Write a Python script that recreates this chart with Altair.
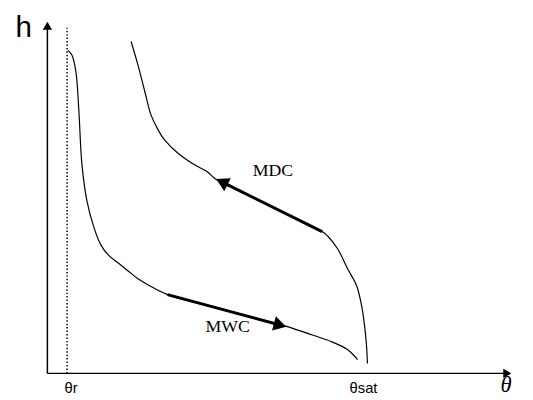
import math
import altair as alt
import pandas as pd

# ---- data (theta: volumetric water content, h: suction head) ----
mwc_theta = [0.021, 0.025, 0.029, 0.032, 0.035, 0.040, 0.047, 0.054, 0.062, 0.072,
             0.082, 0.092, 0.102, 0.122, 0.182, 0.242, 0.269, 0.289, 0.305, 0.315]
mwc_h = [3.28, 3.23, 3.06, 2.66, 2.13, 1.76, 1.49, 1.31, 1.20, 1.12,
         1.04, 0.96, 0.90, 0.80, 0.64, 0.48, 0.39, 0.32, 0.24, 0.14]

mdc_theta = [0.085, 0.092, 0.099, 0.105, 0.112, 0.119, 0.132, 0.149, 0.162, 0.170,
             0.222, 0.279, 0.285, 0.295, 0.305, 0.314, 0.319, 0.322, 0.324, 0.325]
mdc_h = [3.37, 3.13, 2.86, 2.63, 2.48, 2.37, 2.24, 2.12, 2.05, 1.98,
         1.72, 1.44, 1.39, 1.26, 1.06, 0.89, 0.69, 0.49, 0.29, 0.10]

# arrows: tail -> tip
arrow_names = ["MDC", "MWC"]
arrow_tail_theta = [0.279, 0.122]
arrow_tail_h = [1.44, 0.80]
arrow_tip_theta = [0.170, 0.244]
arrow_tip_h = [1.98, 0.47]

label_texts = ["MDC", "MWC"]
label_theta = [0.229, 0.183]
label_h = [2.05, 0.47]

theta_r = 0.020
theta_sat = 0.317
tick_texts = ["θr", "θsat"]

X_MAX, Y_MAX = 0.472, 3.58
W, H = 472, 358
PX_X, PX_Y = W / X_MAX, H / Y_MAX

xs = alt.Scale(domain=[0, X_MAX], nice=False, zero=False)
ys = alt.Scale(domain=[0, Y_MAX], nice=False, zero=False)


def X(f):
    return alt.X(f, type="quantitative", scale=xs, axis=None)


def Y(f):
    return alt.Y(f, type="quantitative", scale=ys, axis=None)


rows = []
for i, (t, h) in enumerate(zip(mwc_theta, mwc_h)):
    rows.append({"theta": t, "h": h, "curve": "MWC", "i": i})
for i, (t, h) in enumerate(zip(mdc_theta, mdc_h)):
    rows.append({"theta": t, "h": h, "curve": "MDC", "i": i})
curves_df = pd.DataFrame(rows)

curves = alt.Chart(curves_df).mark_line(color="black", strokeWidth=1.2,
                                        interpolate="catmull-rom").encode(
    x=X("theta"), y=Y("h"), detail="curve:N", order="i:Q")

# arrow shafts and heads
shaft_rows, head_rows = [], []
for n, t0, h0, t1, h1 in zip(arrow_names, arrow_tail_theta, arrow_tail_h,
                             arrow_tip_theta, arrow_tip_h):
    dx = (t1 - t0) * PX_X
    dy = -(h1 - h0) * PX_Y
    L = math.hypot(dx, dy)
    back = 8.0 / L
    back2 = 12.0 / L
    shaft_rows.append({"a": n, "theta": t0, "h": h0, "i": 0})
    shaft_rows.append({"a": n, "theta": t1 - (t1 - t0) * back2,
                       "h": h1 - (h1 - h0) * back2, "i": 1})
    ang = math.degrees(math.atan2(dx, -dy)) % 360
    head_rows.append({"theta": t1 - (t1 - t0) * back, "h": h1 - (h1 - h0) * back,
                      "ang": ang, "sz": 220})

# axis arrow heads
head_rows.append({"theta": 0.0, "h": Y_MAX - 0.05, "ang": 0.0, "sz": 90})
head_rows.append({"theta": X_MAX - 0.005, "h": 0.0, "ang": 90.0, "sz": 90})

shafts = alt.Chart(pd.DataFrame(shaft_rows)).mark_line(color="black", strokeWidth=3).encode(
    x=X("theta"), y=Y("h"), detail="a:N", order="i:Q")

heads = alt.Chart(pd.DataFrame(head_rows)).mark_point(
    shape="triangle-up", filled=True, color="black", opacity=1
).encode(
    x=X("theta"), y=Y("h"),
    angle=alt.Angle("ang:Q", scale=alt.Scale(domain=[0, 360], range=[0, 360])),
    size=alt.Size("sz:Q", scale=alt.Scale(domain=[0, 300], range=[0, 300]), legend=None),
)

# axes drawn as rules
axis_df = pd.DataFrame({"t0": [0.0, 0.0], "t1": [0.0, X_MAX - 0.005],
                        "h0": [0.0, 0.0], "h1": [Y_MAX - 0.05, 0.0]})
axes = alt.Chart(axis_df).mark_rule(color="black", strokeWidth=1.5).encode(
    x=X("t0"), x2="t1:Q", y=Y("h0"), y2="h1:Q")

# dotted residual water content line
dot_df = pd.DataFrame({"t": [theta_r], "h0": [0.0], "h1": [3.51]})
dotted = alt.Chart(dot_df).mark_rule(color="black", strokeWidth=1.5, strokeDash=[1.5, 2]).encode(
    x=X("t"), y=Y("h0"), y2="h1:Q")

# curve labels
lab_df = pd.DataFrame({"theta": label_theta, "h": label_h, "txt": label_texts})
labels = alt.Chart(lab_df).mark_text(font="Liberation Serif", fontSize=18, color="black").encode(
    x=X("theta"), y=Y("h"), text="txt:N")

# tick labels
tick_df = pd.DataFrame({"theta": [theta_r + 0.004, theta_sat + 0.004], "h": [-0.15, -0.15],
                        "txt": tick_texts})
ticks = alt.Chart(tick_df).mark_text(font="Liberation Sans", fontSize=15, color="black").encode(
    x=X("theta"), y=Y("h"), text="txt:N")

# axis titles
h_df = pd.DataFrame({"theta": [-0.024], "h": [3.51], "txt": ["h"]})
h_title = alt.Chart(h_df).mark_text(font="Liberation Sans", fontSize=30, color="black").encode(
    x=X("theta"), y=Y("h"), text="txt:N")
th_df = pd.DataFrame({"theta": [0.460], "h": [-0.12], "txt": ["θ"]})
th_title = alt.Chart(th_df).mark_text(font="Liberation Serif", fontSize=23,
                                      fontStyle="italic", color="black", align="left",
                                      baseline="middle").encode(
    x=X("theta"), y=Y("h"), text="txt:N")

chart = alt.layer(axes, dotted, curves, shafts, heads, labels, ticks,
                  h_title, th_title).properties(
    width=W, height=H,
    autosize=alt.AutoSizeParams(type="none"),
    padding={"left": 40, "top": 10, "right": 13, "bottom": 24},
).configure_view(stroke=None)

chart.save("out.html", embed_options={"renderer": "svg", "actions": False})
